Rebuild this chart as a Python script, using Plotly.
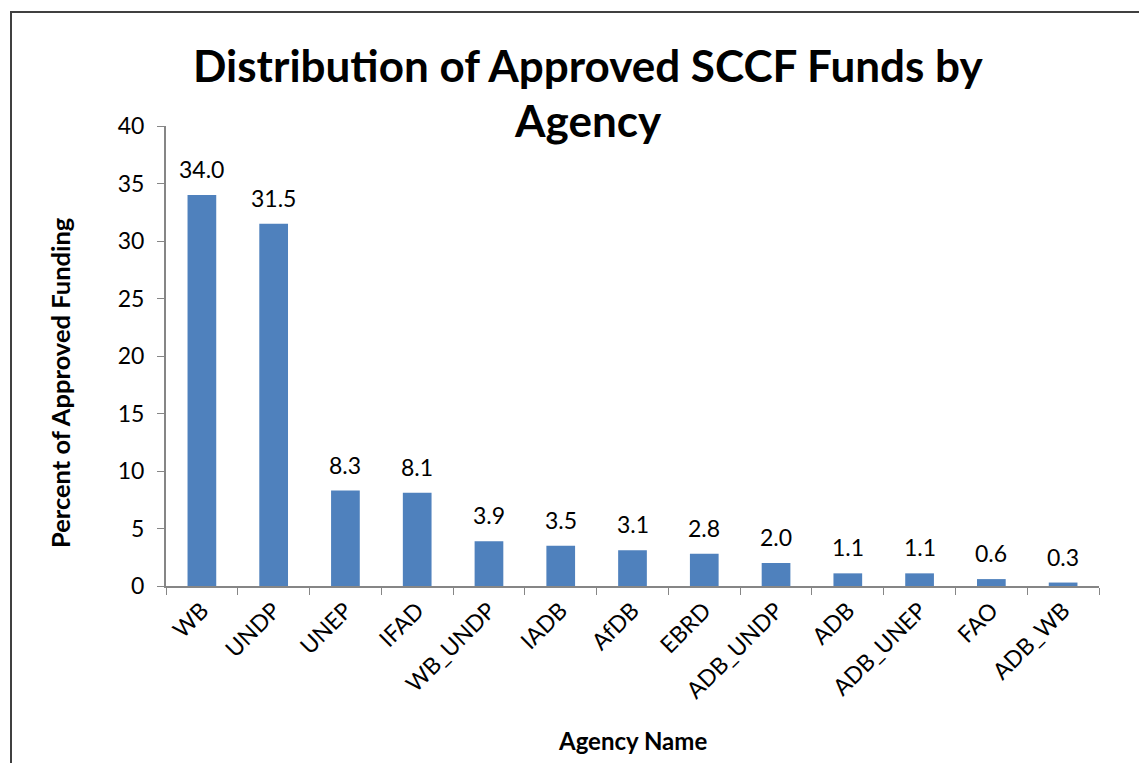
import plotly.graph_objects as go

agencies = ["WB", "UNDP", "UNEP", "IFAD", "WB_UNDP", "IADB", "AfDB", "EBRD",
            "ADB_UNDP", "ADB", "ADB_UNEP", "FAO", "ADB_WB"]
percent = [34.0, 31.5, 8.3, 8.1, 3.9, 3.5, 3.1, 2.8, 2.0, 1.1, 1.1, 0.6, 0.3]
y_ticks = [0, 5, 10, 15, 20, 25, 30, 35, 40]

OFF = 8  # page body margin
W, H = 1147 - OFF, 763 - OFF
# plot area in screen pixels: x 166..1099, y 126..586
L, R, T = 166 - OFF, W - (1099 - OFF), 126 - OFF
B = H - (586 - OFF)
pw, ph = W - L - R, H - T - B

FONT = "Lato"


def px_x(x):
    return (x - OFF - L) / pw


def px_y(y):
    return (H - B - (y - OFF)) / ph


fig = go.Figure()
fig.add_trace(go.Bar(
    x=agencies, y=percent,
    marker=dict(color="#4F81BD", line=dict(width=0)),
    cliponaxis=False,
))

value_labels = [
    dict(x=a, y=v, xref="x", yref="y", text=f"{v:.1f}", showarrow=False,
         xanchor="center", yanchor="bottom", yshift=11, borderpad=0,
         font=dict(family=FONT, size=23, color="#000000"))
    for a, v in zip(agencies, percent)
]

fig.update_layout(
    width=W, height=H,
    margin=dict(l=L, r=R, t=T, b=B),
    paper_bgcolor="white", plot_bgcolor="white",
    bargap=0.6,
    showlegend=False,
    font=dict(family=FONT, color="#000000"),
    xaxis=dict(type="category", tickangle=-45, tickson="boundaries",
               ticks="outside", ticklen=7, tickcolor="#868686",
               showline=True, linecolor="#868686", linewidth=2,
               tickfont=dict(family=FONT, size=23, color="#000000"),
               showgrid=False, zeroline=False),
    yaxis=dict(range=[0, 40], tickvals=y_ticks, ticks="outside", ticklen=7,
               tickcolor="#868686", showline=True, linecolor="#868686",
               linewidth=2, ticklabelstandoff=8,
               tickfont=dict(family=FONT, size=23, color="#000000"),
               showgrid=False, zeroline=False),
    annotations=value_labels + [
        dict(text="<b>Distribution of Approved SCCF Funds by</b>", xref="paper", yref="paper",
             x=px_x(588), y=px_y(65), showarrow=False,
             font=dict(family=FONT, size=44, color="#000000"),
             xanchor="center", yanchor="middle"),
        dict(text="<b>Agency</b>", xref="paper", yref="paper",
             x=px_x(588), y=px_y(120), showarrow=False,
             font=dict(family=FONT, size=44, color="#000000"),
             xanchor="center", yanchor="middle"),
        dict(text="<b>Percent of Approved Funding</b>", xref="paper", yref="paper",
             x=px_x(60), y=px_y(383), textangle=-90, showarrow=False,
             font=dict(family=FONT, size=25.5, color="#000000"),
             xanchor="center", yanchor="middle"),
        dict(text="<b>Agency Name</b>", xref="paper", yref="paper",
             x=px_x(632), y=px_y(740), showarrow=False,
             font=dict(family=FONT, size=24, color="#000000"),
             xanchor="center", yanchor="middle"),
    ],
    shapes=[dict(type="rect", xref="paper", yref="paper",
                 x0=px_x(11), x1=px_x(1170), y0=px_y(790), y1=px_y(12),
                 line=dict(color="#404040", width=2), fillcolor="rgba(0,0,0,0)",
                 layer="below")],
)

fig.write_html("out.html")
